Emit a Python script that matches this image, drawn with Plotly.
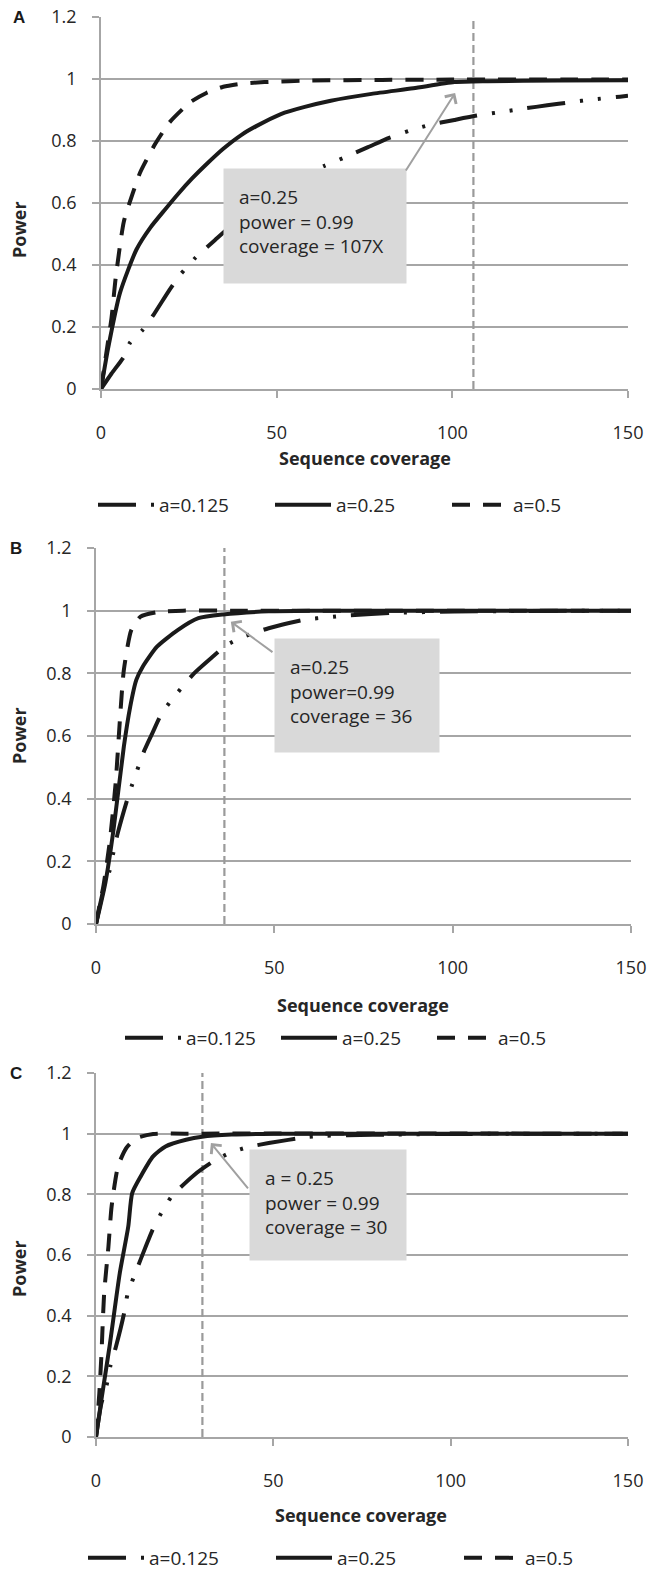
import plotly.graph_objects as go

W, H = 648, 1573

# ---------------- data ----------------
series_names = ["a=0.125", "a=0.25", "a=0.5"]
panel_labels = ["A", "B", "C"]
x_ticks = [0, 50, 100, 150]
x_range = [0, 150]
y_range = [0, 1.2]

# Panel A
a0125_A_x = [0, 3, 6.5, 8.3, 11.8, 15, 19.5, 22.3, 27, 32.4, 40, 50, 58, 63.6, 68.9, 76, 82, 88.3, 93.6, 100.6, 107, 114.7, 120.6, 127, 133.5, 140, 147.7, 150]
a0125_A_y = [0, 0.05, 0.104, 0.15, 0.19, 0.24, 0.32, 0.365, 0.425, 0.48, 0.555, 0.635, 0.69, 0.72, 0.745, 0.78, 0.81, 0.835, 0.852, 0.868, 0.882, 0.895, 0.905, 0.915, 0.925, 0.934, 0.943, 0.946]
a025_A_x = [0, 2, 5.4, 10.1, 14, 18.3, 22, 26, 30, 34.8, 40, 44.2, 51.2, 58, 65.4, 77, 88.9, 100.6, 110, 130, 150]
a025_A_y = [0, 0.13, 0.31, 0.45, 0.52, 0.58, 0.63, 0.68, 0.725, 0.775, 0.82, 0.848, 0.887, 0.91, 0.93, 0.952, 0.97, 0.99, 0.993, 0.995, 0.996]
a05_A_x = [0, 1.3, 3, 4.2, 6.5, 9, 11.2, 15.4, 19.5, 25.4, 30, 34.8, 40, 46.5, 60, 80, 100, 150]
a05_A_y = [0, 0.10, 0.23, 0.36, 0.54, 0.63, 0.70, 0.79, 0.86, 0.925, 0.955, 0.975, 0.985, 0.99, 0.995, 0.997, 0.998, 0.998]

# Panel B
a0125_B_x = [0, 2.05, 3.8, 4.9, 6.1, 9.0, 13.6, 16.0, 18.3, 21.2, 27.5, 32.7, 36.6, 41.4, 48.4, 58.8, 65.2, 70.7, 83.1, 100.5, 120, 150]
a0125_B_y = [0, 0.108, 0.17, 0.23, 0.29, 0.406, 0.555, 0.614, 0.67, 0.715, 0.80, 0.853, 0.89, 0.917, 0.944, 0.972, 0.979, 0.985, 0.993, 0.997, 0.999, 1.0]
a025_B_x = [0, 2.6, 4.9, 7.8, 9.6, 11.3, 13.1, 17.1, 22.9, 28.7, 35.6, 48.4, 60, 150]
a025_B_y = [0, 0.13, 0.30, 0.566, 0.694, 0.779, 0.821, 0.885, 0.938, 0.976, 0.988, 0.998, 1.0, 1.0]
a05_B_x = [0, 1, 2.05, 3.8, 5.5, 6.7, 7.8, 9.9, 12.5, 17.1, 24.4, 40, 150]
a05_B_y = [0, 0.06, 0.119, 0.257, 0.449, 0.651, 0.81, 0.938, 0.981, 0.995, 1.0, 1.0, 1.0]

# Panel C
a0125_C_x = [0, 1.5, 3.0, 4.1, 5.6, 7.9, 8.9, 11.4, 14.0, 15.8, 18.4, 21.3, 27.7, 33.0, 37.6, 42.9, 48.7, 59.8, 64.9, 70.8, 85, 100, 150]
a0125_C_y = [0, 0.11, 0.171, 0.237, 0.297, 0.407, 0.471, 0.55, 0.627, 0.679, 0.738, 0.793, 0.864, 0.908, 0.936, 0.956, 0.969, 0.989, 0.993, 0.995, 0.997, 0.999, 1.0]
a025_C_x = [0, 1.5, 3.8, 6.7, 9.1, 10.2, 12.6, 16.1, 19.6, 25.4, 29.9, 38.2, 50, 150]
a025_C_y = [0, 0.121, 0.297, 0.54, 0.694, 0.804, 0.859, 0.925, 0.958, 0.98, 0.99, 0.997, 1.0, 1.0]
a05_C_x = [0, 0.93, 1.5, 2.3, 3.5, 4.4, 6.2, 8.5, 11.4, 16.1, 25, 150]
a05_C_y = [0, 0.143, 0.264, 0.474, 0.627, 0.76, 0.892, 0.952, 0.985, 0.999, 1.0, 1.0]

# threshold coverage (vertical line) and annotation texts
vline_x = [106, 36, 30]
note_texts = [
    "a=0.25<br>power = 0.99<br>coverage = 107X",
    "a=0.25<br>power=0.99<br>coverage = 36",
    "a = 0.25<br>power = 0.99<br>coverage = 30",
]
arrow_head = [(100.8, 0.955), (37.8, 0.965), (32.4, 0.969)]
arrow_tail = [(86.5, 0.70), (49.9, 0.864), (43.2, 0.815)]

# ---------------- layout geometry (pixels) ----------------
plots_px = [  # x0, x1, ytop, ybottom
    (101, 628, 17, 389),
    (96, 631, 548, 924),
    (96, 628, 1073, 1437),
]
box_geo = [  # left(data x), top(data y), width px, height px
    (34.6, 0.712, 182, 114),
    (49.9, 0.913, 164, 113),
    (43.2, 0.950, 156, 110),
]
xtitle_px = [(365, 458), (363, 1005), (361, 1515)]
ytitle_px = [(19, 230), (19, 736), (19, 1269)]
label_px = [(19, 18), (16, 548), (16, 1073)]
legend_px = [(93, 505), (120, 1038), (83, 1558)]
legend_entry = [106, 85, 117]

FONT = "Open Sans"
LINE = "#1a1a1a"
GRID = "#a6a6a6"

def py(p):
    return 1 - p / H

def px(p):
    return p / W

fig = go.Figure()

styles = [
    dict(dash="38px,15px,3px,15px,3px,15px", width=4),
    dict(dash="solid", width=4),
    dict(dash="18px,13px", width=4),
]
data = [
    [(a0125_A_x, a0125_A_y), (a025_A_x, a025_A_y), (a05_A_x, a05_A_y)],
    [(a0125_B_x, a0125_B_y), (a025_B_x, a025_B_y), (a05_B_x, a05_B_y)],
    [(a0125_C_x, a0125_C_y), (a025_C_x, a025_C_y), (a05_C_x, a05_C_y)],
]

for i in range(3):
    xa = "x" if i == 0 else f"x{i+1}"
    ya = "y" if i == 0 else f"y{i+1}"
    lg = "legend" if i == 0 else f"legend{i+1}"
    fig.add_trace(go.Scatter(x=[vline_x[i], vline_x[i]], y=y_range, mode="lines",
                             line=dict(color="#9a9a9a", width=2.2, dash="8px,4px"),
                             xaxis=xa, yaxis=ya, showlegend=False, hoverinfo="skip"))
    for j in range(3):
        xs, ys = data[i][j]
        fig.add_trace(go.Scatter(x=xs, y=ys, mode="lines", name=series_names[j],
                                 line=dict(color=LINE, width=styles[j]["width"], dash=styles[j]["dash"],
                                           shape="spline", smoothing=0.6),
                                 xaxis=xa, yaxis=ya, legend=lg))

layout = dict(
    width=W, height=H,
    margin=dict(l=0, r=0, t=0, b=0, autoexpand=False),
    paper_bgcolor="white", plot_bgcolor="white",
    font=dict(family=FONT, size=18, color="#262626"),
    annotations=[],
)

for i in range(3):
    x0, x1, yt, yb = plots_px[i]
    sfx = "" if i == 0 else str(i + 1)
    layout["xaxis" + sfx] = dict(
        domain=[px(x0), px(x1)], range=x_range, tickvals=x_ticks,
        showgrid=False, zeroline=False, showline=True, linecolor=GRID, linewidth=1.5,
        ticks="outside", ticklen=7, tickcolor=GRID, tickwidth=1.5,
        tickfont=dict(size=18, color="#262626"), ticklabelstandoff=20,
        ticklabeloverflow="allow",
        anchor="y" + sfx, fixedrange=True, automargin=False,
    )
    layout["yaxis" + sfx] = dict(
        domain=[py(yb), py(yt)], range=y_range, dtick=0.2, tick0=0,
        showgrid=True, gridcolor=GRID, gridwidth=1.5, zeroline=False,
        showline=True, linecolor=GRID, linewidth=1.5,
        ticks="outside", ticklen=7, tickcolor=GRID, tickwidth=1.5,
        tickfont=dict(size=18, color="#262626"), ticklabelstandoff=12,
        ticklabeloverflow="allow",
        anchor="x" + sfx, fixedrange=True, automargin=False,
    )
    lx, lyp = legend_px[i]
    layout["legend" + sfx] = dict(
        orientation="h", x=px(lx), y=py(lyp), xanchor="left", yanchor="middle",
        xref="paper", yref="paper", font=dict(size=19, color="#262626"),
        itemwidth=56, entrywidth=legend_entry[i], bgcolor="rgba(0,0,0,0)",
    )
    xr = "x" + sfx
    yr = "y" + sfx
    bx, by, bw, bh = box_geo[i]
    pad = 15
    layout["annotations"].append(dict(
        x=bx, y=by, xref=xr, yref=yr, xanchor="left", yanchor="top",
        text=note_texts[i], showarrow=False, align="left", valign="top",
        bgcolor="#d9d9d9", borderpad=pad, width=bw - 2 * pad, height=bh - 2 * pad,
        font=dict(size=19, color="#262626"),
    ))
    hx, hy = arrow_head[i]
    tx, ty = arrow_tail[i]
    layout["annotations"].append(dict(
        x=hx, y=hy, ax=tx, ay=ty, xref=xr, yref=yr, axref=xr, ayref=yr,
        text="", showarrow=True, arrowhead=4, arrowsize=1.3, arrowwidth=2,
        arrowcolor="#a0a0a0",
    ))
    tx_, ty_ = xtitle_px[i]
    layout["annotations"].append(dict(
        x=px(tx_), y=py(ty_), xref="paper", yref="paper", xanchor="center", yanchor="middle",
        text="<b>Sequence coverage</b>", showarrow=False, font=dict(size=18, color="#262626")))
    yx_, yy_ = ytitle_px[i]
    layout["annotations"].append(dict(
        x=px(yx_), y=py(yy_), xref="paper", yref="paper", xanchor="center", yanchor="middle",
        text="<b>Power</b>", textangle=-90, showarrow=False, font=dict(size=18, color="#262626")))
    lbx, lby = label_px[i]
    layout["annotations"].append(dict(
        x=px(lbx), y=py(lby), xref="paper", yref="paper", xanchor="center", yanchor="middle",
        text="<b>" + panel_labels[i] + "</b>", showarrow=False,
        font=dict(family="Liberation Sans", size=17, color="#1a1a1a")))

fig.update_layout(**layout)
fig.write_html(
    "out.html",
    config={"displayModeBar": False},
    post_script="document.body.style.margin='0px';document.body.style.overflow='hidden';",
)
